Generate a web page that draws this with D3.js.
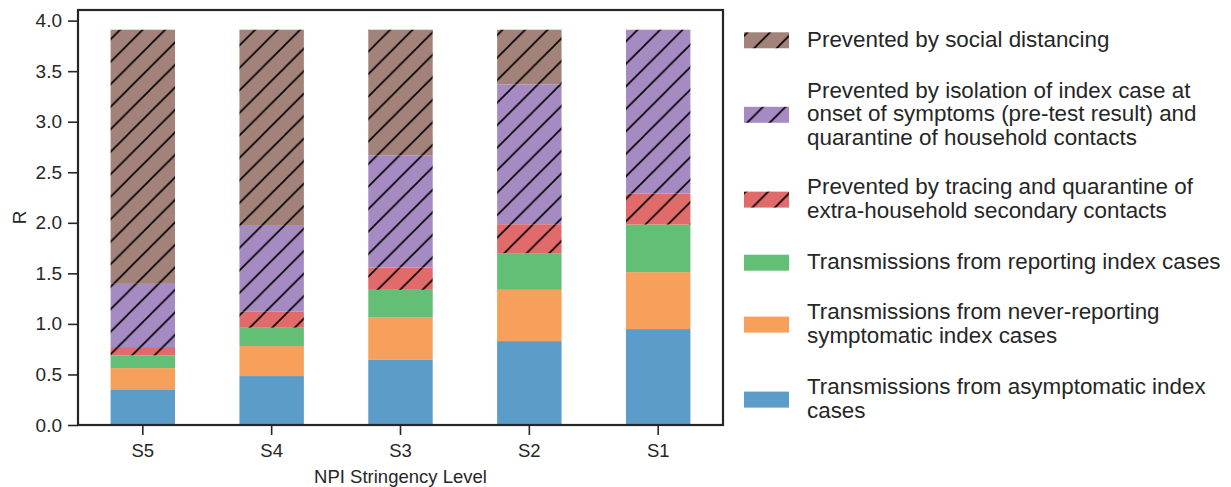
<!DOCTYPE html>
<html>
<head>
<meta charset="utf-8">
<script src="https://cdn.jsdelivr.net/npm/d3@7"></script>
<style>
  html, body { margin: 0; padding: 0; background: #fff; }
  svg { display: block; font-family: "Liberation Sans", Arial, sans-serif; }
</style>
</head>
<body>
<svg id="chart" width="1231" height="487"></svg>
<script>
// ---- data ----
const categories = ["S5", "S4", "S3", "S2", "S1"];
const asymptomatic     = [0.353, 0.484, 0.649, 0.830, 0.949];
const neverReporting   = [0.210, 0.297, 0.415, 0.507, 0.563];
const reporting        = [0.126, 0.181, 0.273, 0.363, 0.471];
const tracing          = [0.082, 0.158, 0.221, 0.286, 0.307];
const isolation        = [0.625, 0.850, 1.110, 1.384, 1.620];
const socialDistancing = [2.514, 1.940, 1.242, 0.540, 0.000];
const yTicks = [0, 0.5, 1.0, 1.5, 2.0, 2.5, 3.0, 3.5, 4.0];

const seriesKeys = ["asymptomatic", "neverReporting", "reporting", "tracing", "isolation", "socialDistancing"];
const seriesValues = { asymptomatic, neverReporting, reporting, tracing, isolation, socialDistancing };
const seriesColors = {
  asymptomatic: "#5b9cc8", neverReporting: "#f6a05b", reporting: "#63be76",
  tracing: "#e16b6b", isolation: "#a68bc3", socialDistancing: "#a3827a"
};
const hatched = { tracing: true, isolation: true, socialDistancing: true };
const legendLabels = {
  socialDistancing: ["Prevented by social distancing"],
  isolation: ["Prevented by isolation of index case at", "onset of symptoms (pre-test result) and", "quarantine of household contacts"],
  tracing: ["Prevented by tracing and quarantine of", "extra-household secondary contacts"],
  reporting: ["Transmissions from reporting index cases"],
  neverReporting: ["Transmissions from never-reporting", "symptomatic index cases"],
  asymptomatic: ["Transmissions from asymptomatic index", "cases"]
};

// ---- layout ----
const svg = d3.select("#chart");
const L = 78, R = 723, T = 10, B = 425;
const ink = "#262626";

const x = d3.scaleBand().domain(categories).range([L, R]).paddingInner(0.5).paddingOuter(0.253);
const y = d3.scaleLinear().domain([0, 4.105]).range([B, T]);

// hatch patterns
const defs = svg.append("defs");
const P = 22.5;
seriesKeys.filter(k => hatched[k]).forEach(k => {
  const pat = defs.append("pattern")
    .attr("id", "hatch-" + k)
    .attr("patternUnits", "userSpaceOnUse")
    .attr("x", 14.9).attr("y", 0)
    .attr("width", P).attr("height", P);
  pat.append("rect").attr("width", P).attr("height", P).attr("fill", seriesColors[k]);
  pat.append("path")
    .attr("d", `M0,${P} L${P},0 M${-P/2},${P/2} L${P/2},${-P/2} M${P/2},${P*1.5} L${P*1.5},${P/2}`)
    .attr("stroke", "#000").attr("stroke-width", 1.6).attr("fill", "none");
});

// stack
const rows = categories.map((c, i) => {
  const r = { cat: c };
  seriesKeys.forEach(k => r[k] = seriesValues[k][i]);
  return r;
});
const stacked = d3.stack().keys(seriesKeys)(rows);

const g = svg.append("g");
stacked.forEach(layer => {
  const k = layer.key;
  g.selectAll(null).data(layer).enter().append("rect")
    .attr("x", d => x(d.data.cat))
    .attr("width", x.bandwidth())
    .attr("y", d => y(d[1]))
    .attr("height", d => Math.max(0, y(d[0]) - y(d[1])))
    .attr("fill", hatched[k] ? `url(#hatch-${k})` : seriesColors[k]);
});

// axes
const yAxis = svg.append("g").attr("transform", `translate(${L},0)`)
  .call(d3.axisLeft(y).tickValues(yTicks).tickFormat(d3.format(".1f")).tickSize(10).tickPadding(6));
const xAxis = svg.append("g").attr("transform", `translate(0,${B})`)
  .call(d3.axisBottom(x).tickSize(10).tickPadding(5));
[yAxis, xAxis].forEach(a => {
  a.select(".domain").remove();
  a.selectAll(".tick line").attr("stroke", ink).attr("stroke-width", 1.6);
  a.selectAll(".tick text").attr("fill", ink).attr("font-family", '"Liberation Sans", Arial, sans-serif');
});
yAxis.selectAll(".tick text").attr("font-size", 19);
xAxis.selectAll(".tick text").attr("font-size", 18.5).attr("dy", "0.9em");

// frame
svg.append("rect").attr("x", L).attr("y", T).attr("width", R - L).attr("height", B - T)
  .attr("fill", "none").attr("stroke", ink).attr("stroke-width", 2.2);

// axis labels
svg.append("text").attr("x", (L + R) / 2).attr("y", 476).attr("text-anchor", "middle")
  .attr("dominant-baseline", "central").attr("font-size", 18.5).attr("fill", ink)
  .text("NPI Stringency Level");
svg.append("text").attr("transform", `translate(19,${(T + B) / 2}) rotate(-90)`)
  .attr("text-anchor", "middle").attr("dominant-baseline", "central")
  .attr("font-size", 19).attr("fill", ink).text("R");

// legend
const legendOrder = ["socialDistancing", "isolation", "tracing", "reporting", "neverReporting", "asymptomatic"];
const legendFirstLine = [39.3, 90, 186.7, 261.7, 311.7, 386.7];
const lineH = 23.8;
const lg = svg.append("g");
legendOrder.forEach((k, i) => {
  const lines = legendLabels[k];
  const y0 = legendFirstLine[i];
  const cy = y0 + (lines.length - 1) * lineH / 2 + 1;
  lg.append("rect").attr("x", 744).attr("y", cy - 8).attr("width", 45).attr("height", 16)
    .attr("fill", hatched[k] ? `url(#hatch-${k})` : seriesColors[k]);
  const t = lg.append("text").attr("x", 807).attr("font-size", 22.4).attr("fill", ink);
  lines.forEach((ln, j) => {
    t.append("tspan").attr("x", 807).attr("y", y0 + j * lineH)
      .attr("dominant-baseline", "central").text(ln);
  });
});
</script>
</body>
</html>
